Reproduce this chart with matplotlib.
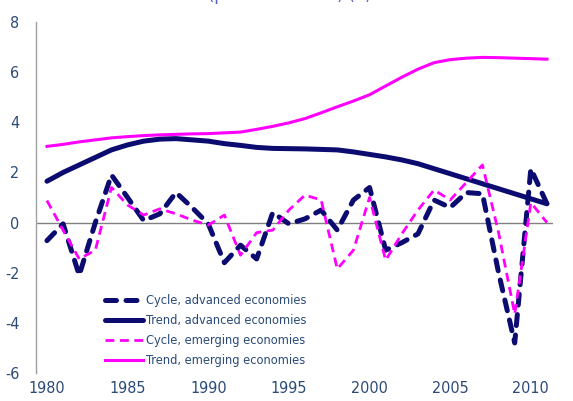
import matplotlib
matplotlib.use("Agg")
import matplotlib.pyplot as plt

years = list(range(1980, 2012))

cycle_adv = [-0.72, -0.05, -2.1, 0.0, 1.9, 1.0, 0.08, 0.35, 1.2, 0.6, -0.05, -1.6, -0.9, -1.45,
             0.4, -0.05, 0.15, 0.5, -0.3, 0.9, 1.4, -1.1, -0.8, -0.45, 0.9, 0.6, 1.2, 1.15,
             -2.0, -4.8, 2.15, 0.75]
trend_adv = [1.65, 2.0, 2.3, 2.6, 2.9, 3.1, 3.25, 3.33, 3.35, 3.3, 3.25, 3.15, 3.08, 3.0,
             2.96, 2.95, 2.94, 2.92, 2.9, 2.82, 2.72, 2.62, 2.5, 2.35, 2.15, 1.95, 1.75,
             1.55, 1.35, 1.15, 0.95, 0.75]
cycle_emg = [0.88, -0.3, -1.45, -1.1, 1.4, 0.7, 0.3, 0.55, 0.35, 0.1, -0.1, 0.3, -1.3, -0.4,
             -0.3, 0.5, 1.1, 0.9, -1.85, -1.1, 1.0, -1.5, -0.45, 0.5, 1.3, 0.9, 1.6, 2.3,
             -0.4, -3.65, 0.8, 0.0]
trend_emg = [3.04, 3.12, 3.22, 3.3, 3.38, 3.43, 3.47, 3.5, 3.52, 3.54, 3.55, 3.58, 3.61, 3.72,
             3.84, 3.98, 4.15, 4.38, 4.62, 4.85, 5.1, 5.45, 5.8, 6.12, 6.38, 6.5, 6.56,
             6.59, 6.58, 6.56, 6.54, 6.52]

labels = ["Cycle, advanced economies", "Trend, advanced economies",
          "Cycle, emerging economies", "Trend, emerging economies"]
yticks = [-6, -4, -2, 0, 2, 4, 6, 8]
xticks = [1980, 1985, 1990, 1995, 2000, 2005, 2010]
title_text = "(percent of GDP) (1)"

plt.rcParams["font.family"] = ["DejaVu Sans"]
plt.rcParams["font.stretch"] = "condensed"
plt.rcParams["axes.unicode_minus"] = False

navy = "#0B0B70"
mag = "#FF00FF"
txt = "#2B4A78"

fig = plt.figure(figsize=(5.73, 4.01), dpi=100)
ax = fig.add_axes([0.0628, 0.0698, 0.9022, 0.8752])

ax.axhline(0, color="#808080", lw=1.0, zorder=1)

l1, = ax.plot(years, cycle_adv, color=navy, lw=3.6, dashes=(2.2, 1.9),
              dash_capstyle="round", solid_capstyle="round", zorder=4)
l2, = ax.plot(years, trend_adv, color=navy, lw=3.6, solid_capstyle="round", zorder=3)
l3, = ax.plot(years, cycle_emg, color=mag, lw=2.0, dashes=(3.2, 2.0), zorder=5)
l4, = ax.plot(years, trend_emg, color=mag, lw=2.2, zorder=3)

ax.set_xlim(1979.32, 2011.37)
ax.set_ylim(-6, 8)
ax.set_yticks(yticks)
ax.set_xticks(xticks)
ax.tick_params(axis="both", length=0, labelsize=11.5, colors=txt)
ax.tick_params(axis="y", pad=12)
ax.tick_params(axis="x", pad=6)
for s in ["top", "right", "bottom"]:
    ax.spines[s].set_visible(False)
ax.spines["left"].set_color("#A0A0A0")
ax.spines["left"].set_linewidth(1.0)

leg = ax.legend([l1, l2, l3, l4], labels, loc="upper left",
                bbox_to_anchor=(0.133, 0.225), frameon=False, fontsize=9.2,
                handlelength=3.0, handletextpad=0.2, labelspacing=0.55,
                borderaxespad=0, borderpad=0)
for t in leg.get_texts():
    t.set_color(txt)

fig.text(0.506, 1.0 - 4 / 401, title_text, ha="center", va="bottom", fontsize=13,
         color="#5A5AC8")

fig.savefig("out.png", dpi=100)
